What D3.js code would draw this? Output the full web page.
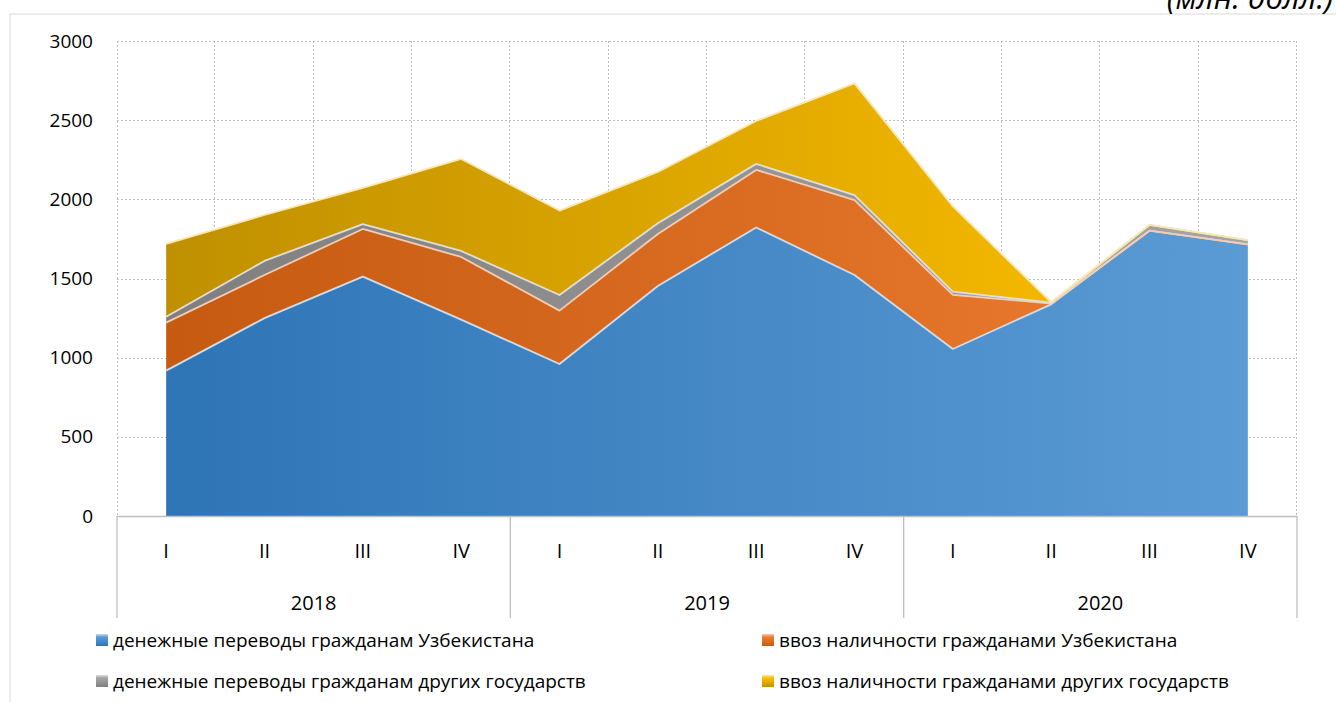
<!DOCTYPE html>
<html>
<head>
<meta charset="utf-8">
<script src="https://cdn.jsdelivr.net/npm/d3@7"></script>
<style>
  body { margin: 0; background: #fff; }
  svg { display: block; font-family: "Open Sans", "Noto Sans", sans-serif; }
</style>
</head>
<body>
<svg id="chart" width="1336" height="702"></svg>
<script>
// quarters and years of the multi-level axis
const quarters = ['I', 'II', 'III', 'IV'];
const years = ['2018', '2019', '2020'];

// series values, mln USD
const uzTransfers = [918, 1250, 1512, 1240, 960, 1453, 1822, 1522, 1055, 1337, 1802, 1716];
const uzCash      = [303, 272, 301, 396, 337, 328, 364, 473, 341, 5, 0, 0];
const otherTransfers = [38, 89, 31, 38, 99, 68, 38, 32, 21, 5, 36, 27];
const otherCash   = [459, 290, 228, 581, 533, 324, 271, 705, 538, 3, 0, 0];

const seriesNames = [
  'денежные переводы гражданам Узбекистана',
  'ввоз наличности гражданами Узбекистана',
  'денежные переводы гражданам других государств',
  'ввоз наличности гражданами других государств'
];
const yTicks = [0, 500, 1000, 1500, 2000, 2500, 3000];

const keys = ['uzT', 'uzC', 'oT', 'oC'];
const colors = {
  uzT: ['#2e75b6', '#5b9bd5', '#c9def2'],
  uzC: ['#c55a11', '#ed7d31', '#f8cbad'],
  oT:  ['#7f7f7f', '#a5a5a5', '#dedede'],
  oC:  ['#bf9000', '#ffc000', '#fbe7a8']
};

const cats = [];
years.forEach(y => quarters.forEach(q => cats.push(y + '-' + q)));
const rows = cats.map((c, i) => ({
  cat: c, uzT: uzTransfers[i], uzC: uzCash[i], oT: otherTransfers[i], oC: otherCash[i]
}));

const svg = d3.select('#chart');
const plotL = 117, plotR = 1297, plotT = 41, plotB = 516;

const x = d3.scaleBand().domain(cats).range([plotL, plotR]);
const y = d3.scaleLinear().domain([0, 3000]).range([plotB, plotT]);
const cx = d => x(d) + x.bandwidth() / 2;

// outer chart border
svg.append('rect')
    .attr('x', 10).attr('y', 14).attr('width', 1400).attr('height', 1000)
    .attr('fill', 'none').attr('stroke', '#d9d9d9');

// unit caption (cut at the top edge, as in the source)
svg.append('text')
    .attr('x', 1333).attr('y', 9)
    .attr('text-anchor', 'end')
    .attr('font-size', 31).attr('font-style', 'italic')
    .attr('fill', '#000')
    .text('(млн. долл.)');

// gradients
const defs = svg.append('defs');
keys.forEach(k => {
  const g = defs.append('linearGradient')
      .attr('id', 'g-' + k)
      .attr('gradientUnits', 'userSpaceOnUse')
      .attr('x1', cx(cats[0])).attr('x2', cx(cats[cats.length - 1]))
      .attr('y1', 0).attr('y2', 0);
  g.append('stop').attr('offset', '0%').attr('stop-color', colors[k][0]);
  g.append('stop').attr('offset', '100%').attr('stop-color', colors[k][1]);

  const lg = defs.append('linearGradient')
      .attr('id', 'lg-' + k)
      .attr('x1', 0).attr('x2', 0).attr('y1', 0).attr('y2', 1);
  lg.append('stop').attr('offset', '0%').attr('stop-color', colors[k][2]);
  lg.append('stop').attr('offset', '25%').attr('stop-color', colors[k][1]);
  lg.append('stop').attr('offset', '100%').attr('stop-color', colors[k][0]);
});

// gridlines
const grid = svg.append('g')
    .attr('stroke', '#bfbfbf').attr('stroke-width', 1).attr('stroke-dasharray', '2,2');
grid.selectAll('line.h')
    .data(yTicks.filter(t => t > 0))
    .enter().append('line')
    .attr('x1', plotL).attr('x2', plotR)
    .attr('y1', d => Math.round(y(d)) + 0.5).attr('y2', d => Math.round(y(d)) + 0.5);
grid.selectAll('line.v')
    .data(cats.slice(1).concat(['end']))
    .enter().append('line')
    .attr('x1', d => Math.round(d === 'end' ? plotR : x(d)) - 0.5)
    .attr('x2', d => Math.round(d === 'end' ? plotR : x(d)) - 0.5)
    .attr('y1', plotT).attr('y2', plotB);
grid.append('line')
    .attr('x1', plotL + 0.5).attr('x2', plotL + 0.5)
    .attr('y1', plotT).attr('y2', plotB);

// stacked areas
const stacked = d3.stack().keys(keys)(rows);

const area = d3.area()
    .x(d => cx(d.data.cat))
    .y0(d => y(d[0]))
    .y1(d => y(d[1]));
const topLine = d3.line()
    .x(d => cx(d.data.cat))
    .y(d => y(d[1]));

const layers = svg.append('g');
layers.selectAll('path.area')
    .data(stacked)
    .enter().append('path')
    .attr('class', 'area')
    .attr('d', area)
    .attr('fill', d => `url(#g-${d.key})`);
layers.selectAll('path.edge')
    .data(stacked)
    .enter().append('path')
    .attr('class', 'edge')
    .attr('d', topLine)
    .attr('fill', 'none')
    .attr('stroke', d => colors[d.key][2])
    .attr('stroke-width', 1.8)
    .attr('stroke-linejoin', 'round');

// y axis labels
svg.append('g')
    .selectAll('text')
    .data(yTicks)
    .enter().append('text')
    .attr('x', 93)
    .attr('y', d => y(d))
    .attr('dy', '0.35em')
    .attr('text-anchor', 'end')
    .attr('font-size', 19)
    .attr('fill', '#000')
    .text(d => d);

// category axis
const axis = svg.append('g').attr('stroke', '#bfbfbf').attr('stroke-width', 1.3);
axis.append('line')
    .attr('x1', plotL).attr('x2', plotR)
    .attr('y1', plotB + 0.5).attr('y2', plotB + 0.5);
const yearBounds = [0, 4, 8, 12].map(i => i < 12 ? x(cats[i]) : plotR);
axis.selectAll('line.sep')
    .data(yearBounds)
    .enter().append('line')
    .attr('x1', d => d).attr('x2', d => d)
    .attr('y1', plotB).attr('y2', 618);

svg.append('g')
    .selectAll('text')
    .data(cats)
    .enter().append('text')
    .attr('x', d => cx(d))
    .attr('y', 551)
    .attr('dy', '0.35em')
    .attr('text-anchor', 'middle')
    .attr('font-size', 20)
    .text(d => d.split('-')[1]);

svg.append('g')
    .selectAll('text')
    .data(years)
    .enter().append('text')
    .attr('x', (d, i) => (yearBounds[i] + yearBounds[i + 1]) / 2)
    .attr('y', 603)
    .attr('dy', '0.35em')
    .attr('text-anchor', 'middle')
    .attr('font-size', 20)
    .text(d => d);

// legend
const legendPos = [[96, 640], [762, 640], [96, 681], [762, 681]];
const legend = svg.append('g');
keys.forEach((k, i) => {
  const [lx, ly] = legendPos[i];
  legend.append('rect')
      .attr('x', lx).attr('y', ly - 6)
      .attr('width', 12).attr('height', 12)
      .attr('fill', `url(#lg-${k})`);
  legend.append('text')
      .attr('x', lx + 17).attr('y', ly)
      .attr('dy', '0.35em')
      .attr('font-size', 19)
      .text(seriesNames[i]);
});
</script>
</body>
</html>
